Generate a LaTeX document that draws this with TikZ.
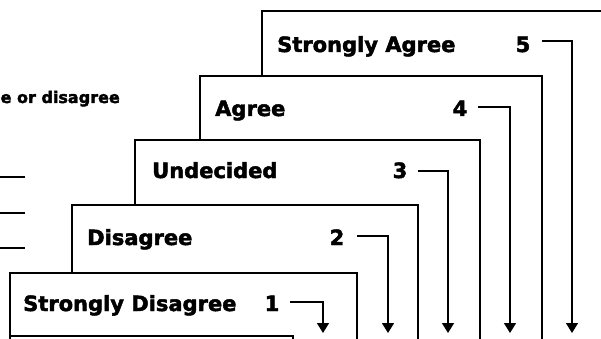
\documentclass[tikz,border=0pt]{standalone}
\usepackage{fontspec}
\newfontfamily\cardfont[BoldFeatures={FakeBold=2.2}]{DejaVu Sans}
\usetikzlibrary{arrows.meta}
\begin{document}
\begin{tikzpicture}[x=1pt,y=-1pt,
  card/.style={draw=black, fill=white, line width=1.7pt},
  lbl/.style={inner sep=0pt, anchor=base west, font=\cardfont\bfseries\fontsize{21}{21}\selectfont},
  num/.style={inner sep=0pt, anchor=base, font=\cardfont\bfseries\fontsize{21}{21}\selectfont},
  pointer/.style={line width=1.5pt, -{Triangle[width=12pt,length=10pt]}},
  blank/.style={line width=1.7pt}]
\useasboundingbox (0,0) rectangle (601,339);
\clip (0,0) rectangle (601,339);

% left fragment of question text and answer blanks
\node[inner sep=0pt, anchor=base east, font=\cardfont\bfseries\fontsize{16}{16}\selectfont] (q) at (120,103) {e or disagree};
\coordinate (b1a) at (0,177); \coordinate (b1b) at (25,177);
\coordinate (b2a) at (0,213); \coordinate (b2b) at (25,213);
\coordinate (b3a) at (0,248); \coordinate (b3b) at (25,248);
\draw[blank] (b1a) -- (b1b);
\draw[blank] (b2a) -- (b2b);
\draw[blank] (b3a) -- (b3b);

% card 5
\path[card] (262,11) rectangle (612,348);
\node[lbl] (l5) at (277,52) {Strongly Agree};
\node[num] (n5) at (523,52) {5};
\coordinate (s5) at (542,41); \coordinate (t5) at (572,333);
\draw[pointer, line width=1.2pt] (s5) -| (t5);

% card 4
\path[card] (200,76) rectangle (542,348);
\node[lbl] (l4) at (215,116) {Agree};
\node[num] (n4) at (460,116) {4};
\coordinate (s4) at (478,107); \coordinate (t4) at (510,333);
\draw[pointer] (s4) -| (t4);

% card 3
\path[card] (135,140) rectangle (480,348);
\node[lbl] (l3) at (152,178) {Undecided};
\node[num] (n3) at (400,178) {3};
\coordinate (s3) at (418,171); \coordinate (t3) at (448,333);
\draw[pointer] (s3) -| (t3);

% card 2
\path[card] (72,205) rectangle (418,348);
\node[lbl] (l2) at (87,245) {Disagree};
\node[num] (n2) at (337,245) {2};
\coordinate (s2) at (357,236); \coordinate (t2) at (388,333);
\draw[pointer] (s2) -| (t2);

% card 1
\path[card] (10,273) rectangle (357,348);
\node[lbl] (l1) at (23,311) {Strongly Disagree};
\node[num] (n1) at (272,311) {1};
\coordinate (s1) at (290,302); \coordinate (t1) at (323,333);
\draw[pointer] (s1) -| (t1);

% front card edge
\path[card] (10,336) -- (293,336) -- (293,348);
\end{tikzpicture}
\end{document}
